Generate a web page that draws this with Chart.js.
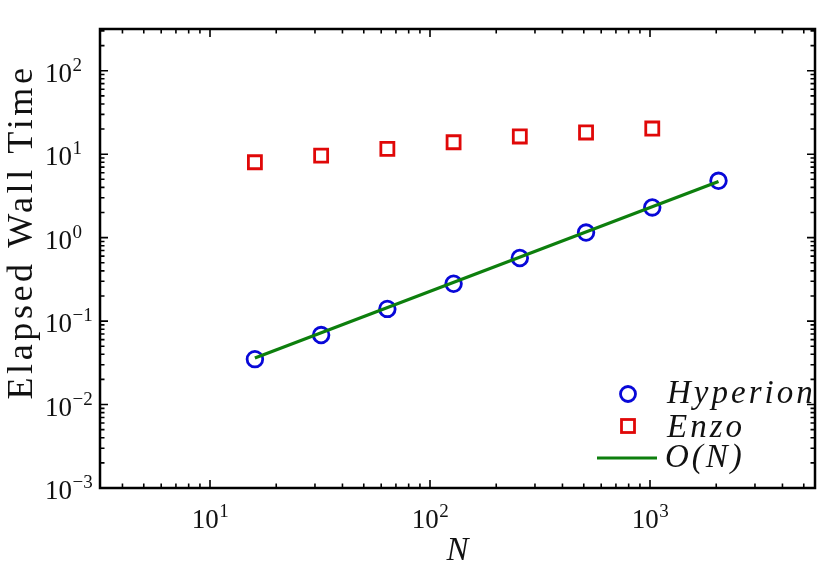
<!DOCTYPE html>
<html>
<head>
<meta charset="utf-8">
<script src="https://cdn.jsdelivr.net/npm/chart.js@4/dist/chart.umd.min.js"></script>
<style>
  html, body { margin: 0; padding: 0; background: #fff; }
  #wrap { width: 830px; height: 567px; }
</style>
</head>
<body>
<div id="wrap"><canvas id="timingChart" width="830" height="567"></canvas></div>
<script>
// --- dane ---
const hyperionN = [16, 32, 64, 128, 256, 512, 1024, 2048];
const hyperionTime = [0.035, 0.068, 0.14, 0.28, 0.57, 1.15, 2.3, 4.8];

const enzoN = [16, 32, 64, 128, 256, 512, 1024];
const enzoTime = [8.0, 9.6, 11.6, 13.9, 16.3, 18.2, 20.3];

const fitN = [16, 2048];
const fitTime = [0.036, 4.7];

const xTickExps = [1, 2, 3];
const yTickExps = [-3, -2, -1, 0, 1, 2];

const xMin = Math.pow(10, 0.5), xMax = Math.pow(10, 3.75);
const yMin = 1e-3, yMax = Math.pow(10, 2.5);

const legendItems = ['Hyperion', 'Enzo', 'O(N)'];

const SERIF = '"Liberation Serif", "Times New Roman", serif';
const BLUE = '#0808d8';
const RED = '#e00808';
const GREEN = '#0d7f0d';

function toPoints(xs, ys) {
    return xs.map((x, i) => ({ x: x, y: ys[i] }));
}

// rysuje 10 z wykladnikiem
function drawPow(ctx, exp, x, y, align) {
    const base = '10';
    const sup = exp < 0 ? '\u2212' + Math.abs(exp) : String(exp);
    ctx.font = '27px ' + SERIF;
    const wb = ctx.measureText(base).width;
    ctx.font = '19px ' + SERIF;
    const ws = ctx.measureText(sup).width;
    let left = x;
    if (align === 'center') left = x - (wb + ws) / 2;
    ctx.textAlign = 'left';
    ctx.textBaseline = 'alphabetic';
    ctx.font = '27px ' + SERIF;
    ctx.fillText(base, left, y);
    ctx.font = '19px ' + SERIF;
    ctx.fillText(sup, left + wb + 0.5, y - 11);
}

const framePlugin = {
    id: 'frame',
    afterDraw(chart) {
        const ctx = chart.ctx;
        const a = chart.chartArea;
        const xs = chart.scales.x, ys = chart.scales.y;
        ctx.save();
        ctx.fillStyle = '#111';
        ctx.strokeStyle = '#000';

        // ticki do srodka na czterech bokach
        ctx.lineWidth = 1.6;
        ctx.beginPath();
        for (let d = 0; d <= 3; d++) {
            for (let m = 1; m <= 9; m++) {
                const v = m * Math.pow(10, d);
                if (v < xMin || v > xMax) continue;
                const px = xs.getPixelForValue(v);
                const len = m === 1 ? 8 : 4.5;
                ctx.moveTo(px, a.bottom); ctx.lineTo(px, a.bottom - len);
                ctx.moveTo(px, a.top); ctx.lineTo(px, a.top + len);
            }
        }
        for (let d = -3; d <= 2; d++) {
            for (let m = 1; m <= 9; m++) {
                const v = m * Math.pow(10, d);
                if (v < yMin || v > yMax) continue;
                const py = ys.getPixelForValue(v);
                const len = m === 1 ? 8 : 4.5;
                ctx.moveTo(a.left, py); ctx.lineTo(a.left + len, py);
                ctx.moveTo(a.right, py); ctx.lineTo(a.right - len, py);
            }
        }
        ctx.stroke();

        // ramka
        ctx.lineWidth = 2.5;
        ctx.strokeRect(a.left, a.top, a.right - a.left, a.bottom - a.top);

        // etykiety osi
        xTickExps.forEach(e => {
            drawPow(ctx, e, xs.getPixelForValue(Math.pow(10, e)), a.bottom + 40, 'center');
        });
        yTickExps.forEach(e => {
            drawPow(ctx, e, 45, ys.getPixelForValue(Math.pow(10, e)) + 11, 'left');
        });

        // tytul osi Y
        ctx.save();
        ctx.translate(32, 232);
        ctx.rotate(-Math.PI / 2);
        ctx.font = '36px ' + SERIF;
        ctx.letterSpacing = '3.6px';
        ctx.textAlign = 'center';
        ctx.textBaseline = 'alphabetic';
        ctx.fillText('Elapsed Wall Time', 0, 0);
        ctx.restore();

        // tytul osi X
        ctx.font = 'italic 33px ' + SERIF;
        ctx.textAlign = 'center';
        ctx.fillText('N', (a.left + a.right) / 2, 560);

        // legenda
        const lx = 628;
        ctx.lineWidth = 2.8;
        ctx.strokeStyle = BLUE;
        ctx.beginPath();
        ctx.arc(lx, 394, 7.5, 0, Math.PI * 2);
        ctx.stroke();
        ctx.strokeStyle = RED;
        ctx.strokeRect(lx - 6.5, 426 - 6.5, 13, 13);
        ctx.strokeStyle = GREEN;
        ctx.lineWidth = 3.2;
        ctx.beginPath();
        ctx.moveTo(597, 458); ctx.lineTo(657, 458);
        ctx.stroke();

        ctx.fillStyle = '#111';
        ctx.textAlign = 'left';
        ctx.letterSpacing = '3px';
        ctx.font = 'italic 33px ' + SERIF;
        ctx.fillText(legendItems[0], 667, 403);
        ctx.fillText(legendItems[1], 667, 437);
        ctx.fillText(legendItems[2], 665, 467);
        ctx.restore();
    }
};

function buildChart() {
    const ctx = document.getElementById('timingChart').getContext('2d');
    new Chart(ctx, {
        type: 'scatter',
        data: {
            datasets: [
                {
                    label: 'O(N)',
                    data: toPoints(fitN, fitTime),
                    showLine: true,
                    borderColor: GREEN,
                    borderWidth: 3.2,
                    pointRadius: 0,
                    fill: false
                },
                {
                    label: 'Hyperion',
                    data: toPoints(hyperionN, hyperionTime),
                    pointStyle: 'circle',
                    pointRadius: 7.8,
                    borderColor: BLUE,
                    backgroundColor: 'rgba(0,0,0,0)',
                    pointBorderWidth: 2.8
                },
                {
                    label: 'Enzo',
                    data: toPoints(enzoN, enzoTime),
                    pointStyle: 'rect',
                    pointRadius: 9.2,
                    borderColor: RED,
                    backgroundColor: 'rgba(0,0,0,0)',
                    pointBorderWidth: 2.8
                }
            ]
        },
        options: {
            responsive: false,
            animation: false,
            devicePixelRatio: 1,
            layout: { autoPadding: false, padding: { left: 100, top: 29, right: 15, bottom: 79 } },
            plugins: { legend: { display: false }, tooltip: { enabled: false } },
            scales: {
                x: {
                    type: 'logarithmic', min: xMin, max: xMax,
                    ticks: { display: false }, grid: { display: false }, border: { display: false },
                    afterFit: s => { s.height = 0; }
                },
                y: {
                    type: 'logarithmic', min: yMin, max: yMax,
                    ticks: { display: false }, grid: { display: false }, border: { display: false },
                    afterFit: s => { s.width = 0; }
                }
            }
        },
        plugins: [framePlugin]
    });
}

// czekamy na fonty zanim narysujemy
Promise.all([
    document.fonts.load('27px "Liberation Serif"'),
    document.fonts.load('italic 33px "Liberation Serif"')
]).then(buildChart, buildChart);
</script>
</body>
</html>
